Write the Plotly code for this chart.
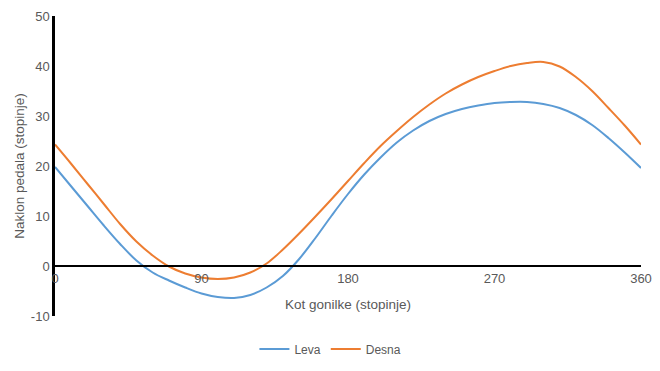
import plotly.graph_objects as go

angles = list(range(0, 361, 10))
leva = [19.8, 15.9, 12.0, 8.1, 4.4, 1.1, -1.3, -2.9, -4.3, -5.5, -6.2, -6.4, -5.8,
        -4.3, -2.0, 1.4, 5.6, 10.1, 14.4, 18.3, 21.7, 24.7, 27.1, 29.0, 30.4, 31.4,
        32.1, 32.6, 32.8, 32.8, 32.4, 31.6, 30.2, 28.2, 25.6, 22.7, 19.6]
desna = [24.3, 20.4, 16.4, 12.4, 8.4, 4.9, 2.1, -0.1, -1.5, -2.3, -2.6, -2.3, -1.3,
         0.5, 3.3, 6.5, 9.9, 13.4, 17.0, 20.6, 24.0, 27.0, 29.8, 32.3, 34.5, 36.3,
         37.8, 39.0, 40.0, 40.6, 40.8, 39.9, 37.8, 35.0, 31.6, 28.1, 24.3]
x_ticks = [0, 90, 180, 270, 360]
y_ticks = [-10, 0, 10, 20, 30, 40, 50]
y_tick_labels = ["-10", "0", "10", "20", "30", "40", "50"]

fig = go.Figure()
fig.add_trace(go.Scatter(x=angles, y=leva, name="Leva", mode="lines",
                         line=dict(color="#5B9BD5", width=2, shape="spline", smoothing=1.0)))
fig.add_trace(go.Scatter(x=angles, y=desna, name="Desna", mode="lines",
                         line=dict(color="#ED7D31", width=2, shape="spline", smoothing=1.0)))

font_grey = "#595959"
fig.update_layout(
    width=652, height=363,
    margin=dict(l=47, r=19, t=8, b=47),
    paper_bgcolor="white", plot_bgcolor="white",
    font=dict(family="Liberation Sans, Arial, sans-serif", size=13, color=font_grey),
    showlegend=True,
    legend=dict(orientation="h", x=0.47, xanchor="center", y=-0.11, yanchor="middle",
                font=dict(size=12, color=font_grey), itemwidth=30),
    xaxis=dict(range=[0, 360], tickvals=x_ticks, ticktext=[str(v) for v in x_ticks],
               showgrid=False, zeroline=False, showline=True, linecolor="black", linewidth=2,
               ticks="", anchor="free", position=1/6, automargin=False,
               ticklabeloverflow="allow",
               title=dict(text="Kot gonilke (stopinje)", font=dict(size=13.5, color=font_grey), standoff=14),
               tickfont=dict(size=13, color=font_grey)),
    yaxis=dict(range=[-10, 50], tickvals=y_ticks, ticktext=y_tick_labels, showgrid=False, zeroline=False,
               showline=True, linecolor="black", linewidth=2.5, ticks="", automargin=False,
               ticklabeloverflow="allow",
               title=dict(text="Naklon pedala (stopinje)", font=dict(size=13.5, color=font_grey), standoff=4),
               tickfont=dict(size=13, color=font_grey)),
)

fig.write_html("out.html", config={"displayModeBar": False})
